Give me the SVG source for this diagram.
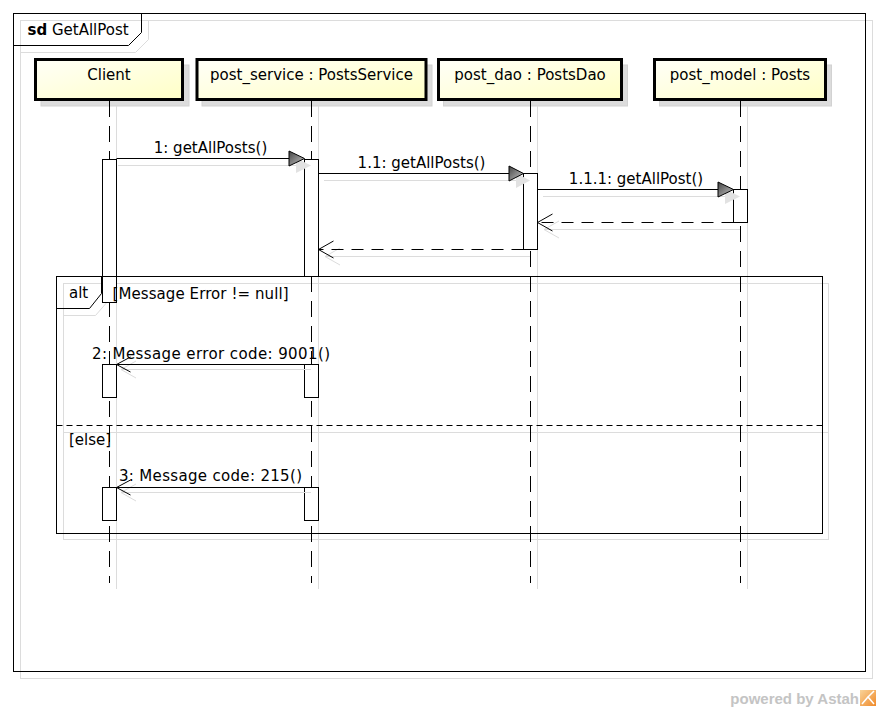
<svg xmlns="http://www.w3.org/2000/svg" width="880" height="712" viewBox="0 0 880 712">
<defs>
<linearGradient id="hdr" x1="0" y1="0" x2="1" y2="1">
<stop offset="0" stop-color="#fffff8"/>
<stop offset="1" stop-color="#ffffc6"/>
</linearGradient>
<linearGradient id="tri" x1="0" y1="0" x2="1" y2="1">
<stop offset="0" stop-color="#444"/>
<stop offset="1" stop-color="#c8c8c8"/>
</linearGradient>
<linearGradient id="logo" x1="0" y1="0" x2="1" y2="1">
<stop offset="0" stop-color="#f9d49a"/>
<stop offset="1" stop-color="#f08a2a"/>
</linearGradient>
<style>
text{font-family:"DejaVu Sans","Liberation Sans",sans-serif;font-size:15px;fill:#000}
.mid{text-anchor:middle}
.shd{fill:none;stroke:#dcdcdc;stroke-width:1}
.shdf{fill:#dcdcdc;stroke:#d2d2d2;stroke-width:1}
.frame{fill:none;stroke:#000;stroke-width:1}
.hdr{fill:url(#hdr);stroke:#000;stroke-width:3}
.life{stroke:#000;stroke-width:1;stroke-dasharray:16,9;fill:none}
.act{fill:#fff;stroke:#000;stroke-width:1}
.msg{stroke:#000;stroke-width:1;fill:none}
.ret{stroke:#000;stroke-width:1;fill:none;stroke-dasharray:12,8}
.tri{fill:url(#tri);stroke:#000;stroke-width:1}
.trishd{fill:#e2e2e2;stroke:none}
</style>
</defs>
<rect width="880" height="712" fill="#fff"/>

<g id="diagram-frame">
<rect class="shd" x="20.5" y="20.5" width="852" height="658"/>
<path class="shd" d="M20.5,52.5 H135.5 L148.5,39.5 V20.5"/>
<rect class="frame" x="13.5" y="13.5" width="852" height="658"/>
<path class="frame" d="M13.5,45.5 H128.5 L141.5,32.5 V13.5"/>
<text x="27.5" y="35"><tspan font-weight="bold">sd</tspan> GetAllPost</text>
</g>

<g id="alt-fragment-shadow">
<rect class="shd" x="63.5" y="283.5" width="765" height="256"/>
<path class="shd" d="M63.5,315.5 H95.5 L108.5,300.5 V283.5"/>
<line class="shd" x1="63.5" y1="432.5" x2="828.5" y2="432.5"/>
</g>

<g id="client">
<rect class="shdf" x="41" y="65" width="148" height="41"/>
<line class="shd" x1="116.5" y1="106" x2="116.5" y2="589"/>
<rect class="hdr" x="35.5" y="59.5" width="147" height="40"/>
<text class="mid" x="109" y="80">Client</text>
<line class="life" x1="109.5" y1="101" x2="109.5" y2="583"/>
</g>

<g id="post_service">
<rect class="shdf" x="202" y="65" width="230" height="41"/>
<line class="shd" x1="318.5" y1="106" x2="318.5" y2="589"/>
<rect class="hdr" x="197" y="59.5" width="229" height="40"/>
<text class="mid" x="311.5" y="80">post_service : PostsService</text>
<line class="life" x1="311.5" y1="101" x2="311.5" y2="583"/>
</g>

<g id="post_dao">
<rect class="shdf" x="443.5" y="65" width="184" height="41"/>
<line class="shd" x1="537.5" y1="106" x2="537.5" y2="589"/>
<rect class="hdr" x="438.5" y="59.5" width="183" height="40"/>
<text class="mid" x="530" y="80">post_dao : PostsDao</text>
<line class="life" x1="530.5" y1="101" x2="530.5" y2="583"/>
</g>

<g id="post_model">
<rect class="shdf" x="659.5" y="65" width="172" height="41"/>
<line class="shd" x1="747.5" y1="106" x2="747.5" y2="589"/>
<rect class="hdr" x="654.5" y="59.5" width="171" height="40"/>
<text class="mid" x="740" y="80">post_model : Posts</text>
<line class="life" x1="740.5" y1="101" x2="740.5" y2="583"/>
</g>

<g id="activations">
<rect class="act" x="102.5" y="159.5" width="14" height="143"/>
<rect class="act" x="304.5" y="159.5" width="14" height="117"/>
<rect class="act" x="523.5" y="173.5" width="14" height="76"/>
<rect class="act" x="733.5" y="189.5" width="14" height="33"/>
<rect class="act" x="102.5" y="364.5" width="14" height="33"/>
<rect class="act" x="304.5" y="364.5" width="14" height="33"/>
<rect class="act" x="102.5" y="487.5" width="14" height="33"/>
<rect class="act" x="304.5" y="487.5" width="14" height="33"/>
</g>

<g id="alt-fragment">
<rect class="frame" x="56.5" y="276.5" width="766" height="257"/>
<path class="frame" d="M56.5,308.5 H89.5 L101.5,293.5 V276.5"/>
<text x="69" y="298">alt</text>
<text x="112.5" y="299" textLength="176" lengthAdjust="spacing">[Message Error != null]</text>
<line x1="56.5" y1="425.5" x2="822.5" y2="425.5" stroke="#000" stroke-width="1" stroke-dasharray="6,4"/>
<text x="69" y="445">[else]</text>
</g>

<g id="connectors">
<!-- 1: getAllPosts() -->
<line class="shd" x1="118" y1="165.5" x2="297" y2="165.5"/>
<polygon class="trishd" points="296,158 296,173 311,165.5"/>
<line class="msg" x1="116.5" y1="158.5" x2="289" y2="158.5"/>
<polygon class="tri" points="289,151 289,166 304.5,158.5"/>
<text class="mid" x="210.5" y="153">1: getAllPosts()</text>

<!-- 1.1: getAllPosts() -->
<line class="shd" x1="324" y1="180.5" x2="516" y2="180.5"/>
<polygon class="trishd" points="516,173 516,188 530,180.5"/>
<line class="msg" x1="318.5" y1="173.5" x2="509" y2="173.5"/>
<polygon class="tri" points="509,166 509,181 523.5,173.5"/>
<text class="mid" x="421.5" y="168">1.1: getAllPosts()</text>

<!-- 1.1.1: getAllPost() -->
<line class="shd" x1="543" y1="196.5" x2="725" y2="196.5"/>
<polygon class="trishd" points="725,189 725,204 740,196.5"/>
<line class="msg" x1="537.5" y1="189.5" x2="718" y2="189.5"/>
<polygon class="tri" points="718,182 718,197 733.5,189.5"/>
<text class="mid" x="636" y="184">1.1.1: getAllPost()</text>

<!-- return from post_model -->
<line class="shd" x1="740" y1="229.5" x2="544" y2="229.5"/>
<polyline class="shd" points="559,221 544,229.5 559,238"/>
<line class="ret" x1="733.5" y1="222.5" x2="537.5" y2="222.5"/>
<polyline class="msg" points="552.5,214 537.5,222.5 552.5,231"/>

<!-- return from post_dao -->
<line class="shd" x1="530" y1="256.5" x2="325" y2="256.5"/>
<polyline class="shd" points="340,248 325,256.5 340,265"/>
<line class="ret" x1="523.5" y1="249.5" x2="318.5" y2="249.5"/>
<polyline class="msg" points="333.5,241 318.5,249.5 333.5,258"/>

<!-- 2: Message error code: 9001() -->
<line class="shd" x1="311" y1="369.5" x2="121" y2="369.5"/>
<polyline class="shd" points="136,361 121,369.5 136,378"/>
<line class="msg" x1="304.5" y1="364.5" x2="116.5" y2="364.5"/>
<polyline class="msg" points="130.5,357 116.5,364.5 130.5,372"/>
<text x="92" y="359" textLength="238" lengthAdjust="spacing">2: Message error code: 9001()</text>

<!-- 3: Message code: 215() -->
<line class="shd" x1="311" y1="492.5" x2="121" y2="492.5"/>
<polyline class="shd" points="136,484 121,492.5 136,501"/>
<line class="msg" x1="304.5" y1="487.5" x2="116.5" y2="487.5"/>
<polyline class="msg" points="130.5,480 116.5,487.5 130.5,495"/>
<text x="119" y="481" textLength="183" lengthAdjust="spacing">3: Message code: 215()</text>
</g>

<g id="watermark">
<text x="859" y="704" text-anchor="end" style="font-family:'Liberation Sans',Arial,sans-serif;font-weight:bold;font-size:15px;fill:#c4c4c4">powered by Astah</text>
<rect x="860" y="690" width="16" height="16" fill="url(#logo)"/>
<path d="M862,704 L868,697 L874,704 M868,697 L874,691" stroke="#fff" stroke-width="1.5" fill="none"/>
</g>
</svg>
